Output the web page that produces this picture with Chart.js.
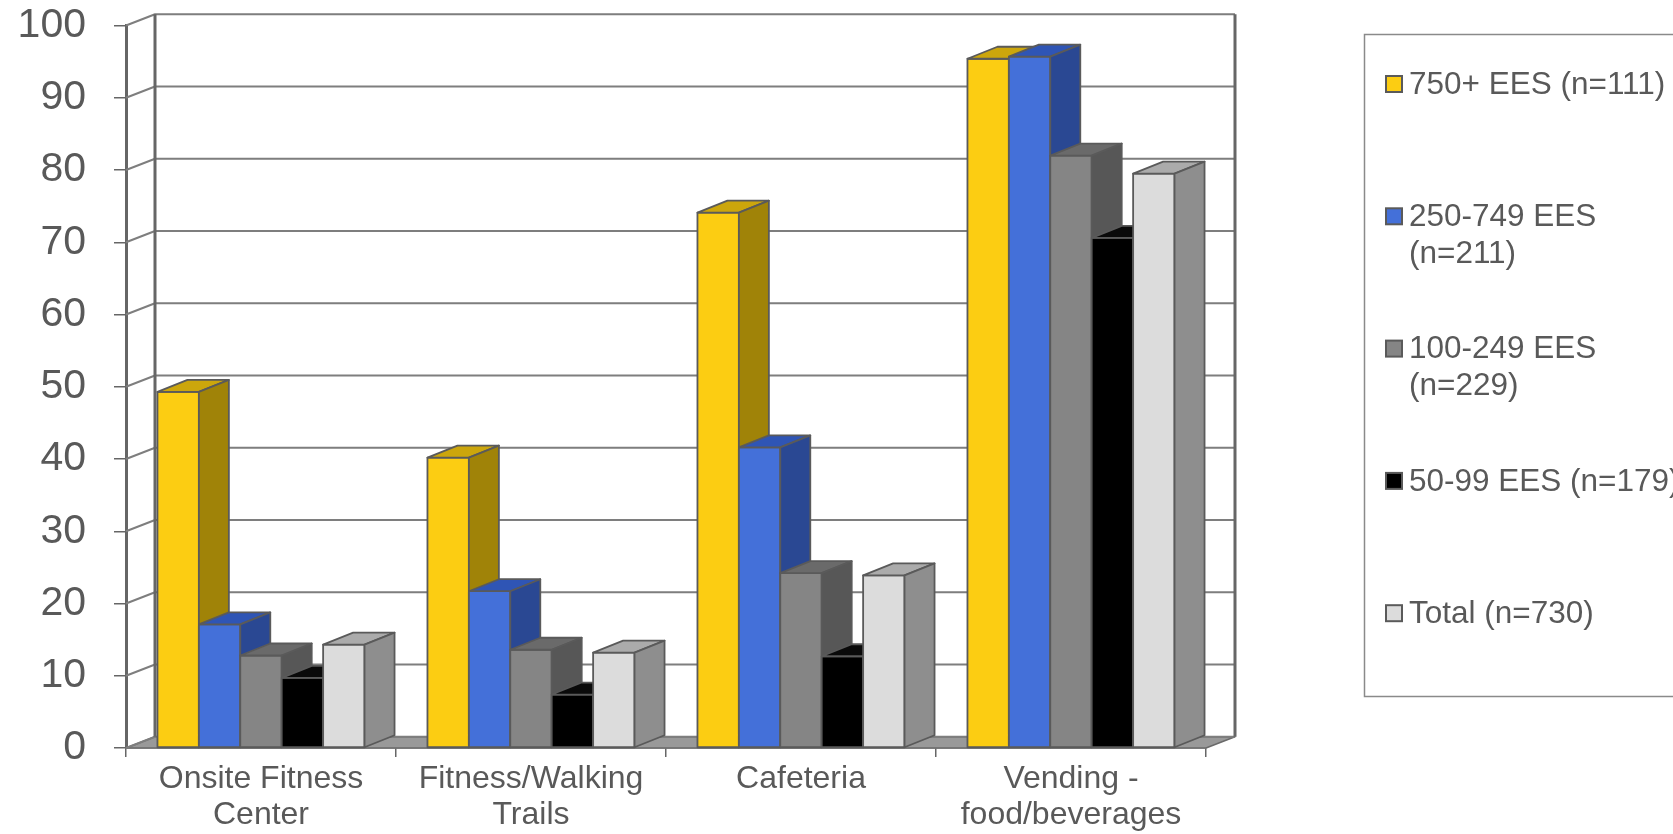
<!DOCTYPE html>
<html>
<head>
<meta charset="utf-8">
<script src="https://cdn.jsdelivr.net/npm/chart.js@4/dist/chart.umd.min.js"></script>
<style>
  html, body { margin: 0; padding: 0; background: #fff; }
  #wrap { width: 1673px; height: 834px; position: relative; }
</style>
</head>
<body>
<div id="wrap"><canvas id="chart"></canvas></div>
<script>
// categories and series
const categories = [['Onsite Fitness', 'Center'], ['Fitness/Walking', 'Trails'], ['Cafeteria'], ['Vending -', 'food/beverages']];
const seriesNames = ['750+ EES (n=111)', '250-749 EES (n=211)', '100-249 EES (n=229)', '50-99 EES (n=179)', 'Total (n=730)'];
const legendLines = [['750+ EES (n=111)'], ['250-749 EES', '(n=211)'], ['100-249 EES', '(n=229)'], ['50-99 EES (n=179)'], ['Total (n=730)']];
const ees750 = [49.3, 40.2, 74.1, 95.4];
const ees250 = [17.1, 21.7, 41.6, 95.7];
const ees100 = [12.8, 13.6, 24.2, 82.0];
const ees50 = [9.7, 7.4, 12.7, 70.6];
const total = [14.3, 13.2, 23.9, 79.5];
const yTicks = [0, 10, 20, 30, 40, 50, 60, 70, 80, 90, 100];

// face colours: front, top, side
const faces = [
  ['#FCCD12', '#CCA60C', '#A08308'],
  ['#4470D9', '#2F55B5', '#2A4893'],
  ['#858585', '#6A6A6A', '#575757'],
  ['#000000', '#0A0A0A', '#000000'],
  ['#DCDCDC', '#ABABAB', '#8E8E8E']
];

const FONT = '"Liberation Sans", Arial, sans-serif';
const TEXT = '#595959';
const EDGE = '#5A5A5A';
const BAR_D = { dx: 30, dy: -12 };
const WALL_D = { dx: 29, dy: -11.3 };

function poly(ctx, pts, fill, stroke, lw) {
  ctx.beginPath();
  ctx.moveTo(pts[0][0], pts[0][1]);
  for (let i = 1; i < pts.length; i++) ctx.lineTo(pts[i][0], pts[i][1]);
  ctx.closePath();
  if (fill) { ctx.fillStyle = fill; ctx.fill(); }
  if (stroke) { ctx.strokeStyle = stroke; ctx.lineWidth = lw; ctx.stroke(); }
}

// floor, side wall and back wall with its gridlines
const walls = {
  id: 'walls',
  beforeDatasetsDraw(chart) {
    const { ctx, chartArea: a, scales: { y } } = chart;
    const L = a.left, R = a.right, B = a.bottom, T = y.getPixelForValue(100);
    const { dx, dy } = WALL_D;
    ctx.save();
    ctx.lineJoin = 'round';
    poly(ctx, [[L, B], [R, B], [R + dx, B + dy], [L + dx, B + dy]], '#999999', '#6A6A6A', 1.5);
    ctx.strokeStyle = '#7E7E7E';
    ctx.lineWidth = 2;
    yTicks.forEach(v => {
      const py = y.getPixelForValue(v);
      ctx.beginPath();
      ctx.moveTo(L, py);
      ctx.lineTo(L + dx, py + dy);
      ctx.lineTo(R + dx, py + dy);
      ctx.stroke();
    });
    ctx.strokeStyle = '#666666';
    ctx.lineWidth = 3;
    ctx.beginPath();
    ctx.moveTo(L + dx, T + dy); ctx.lineTo(L + dx, B + dy);
    ctx.moveTo(R + dx, T + dy); ctx.lineTo(R + dx, B + dy);
    ctx.stroke();
    ctx.restore();
  }
};

// 3D boxes on top of the library's bar elements
const boxes = {
  id: 'boxes',
  afterDatasetsDraw(chart) {
    const { ctx } = chart;
    const { dx, dy } = BAR_D;
    ctx.save();
    ctx.lineJoin = 'round';
    chart.data.datasets.forEach((ds, i) => {
      const [front, top, side] = faces[i];
      chart.getDatasetMeta(i).data.forEach(bar => {
        const { x, y, base, width } = bar.getProps(['x', 'y', 'base', 'width'], true);
        const l = x - width / 2, r = x + width / 2;
        poly(ctx, [[l, y], [r, y], [r, base], [l, base]], front, EDGE, 1.8);
        poly(ctx, [[l, y], [r, y], [r + dx, y + dy], [l + dx, y + dy]], top, EDGE, 1.8);
        poly(ctx, [[r, y], [r + dx, y + dy], [r + dx, base + dy], [r, base]], side, EDGE, 1.8);
      });
    });
    ctx.restore();
  }
};

// boxed legend on the right
const sideLegend = {
  id: 'sideLegend',
  afterDraw(chart) {
    const { ctx } = chart;
    ctx.save();
    ctx.strokeStyle = '#8A8A8A';
    ctx.lineWidth = 1.5;
    ctx.strokeRect(1364.5, 34.5, 420, 662);
    ctx.font = '31.5px ' + FONT;
    ctx.textBaseline = 'middle';
    ctx.textAlign = 'left';
    legendLines.forEach((lines, i) => {
      const cy = 84 + i * 132.3;
      ctx.fillStyle = faces[i][0];
      ctx.fillRect(1386, cy - 8, 16, 16);
      ctx.strokeStyle = '#5A5A5A';
      ctx.lineWidth = 2;
      ctx.strokeRect(1386, cy - 8, 16, 16);
      ctx.fillStyle = TEXT;
      lines.forEach((t, k) => ctx.fillText(t, 1409, cy + 1 + k * 37));
    });
    ctx.restore();
  }
};

const seriesData = [ees750, ees250, ees100, ees50, total];

new Chart(document.getElementById('chart'), {
  type: 'bar',
  data: {
    labels: categories,
    datasets: seriesNames.map((name, i) => ({
      label: name,
      data: seriesData[i],
      backgroundColor: 'rgba(0,0,0,0)',
      borderWidth: 0
    }))
  },
  options: {
    responsive: true,
    maintainAspectRatio: false,
    animation: false,
    layout: { padding: { left: 0, right: 467, top: 25.5, bottom: 0 } },
    datasets: { bar: { barPercentage: 1, categoryPercentage: 0.767 } },
    plugins: { legend: { display: false }, tooltip: { enabled: false } },
    scales: {
      x: {
        afterFit: s => { s.height = 86; s.paddingLeft = 0; s.paddingRight = 0; },
        grid: { drawOnChartArea: false, tickLength: 9, color: '#666666', lineWidth: 1.5 },
        border: { display: true, color: '#666666', width: 1.5 },
        ticks: { color: TEXT, padding: 4, maxRotation: 0, autoSkip: false, font: { family: FONT, size: 32, lineHeight: 1.125 } }
      },
      y: {
        min: 0,
        max: 100,
        // tick padding would otherwise push the plot top down
        afterFit: s => { s.width = 126; s.paddingTop = 0; s.paddingBottom = 0; },
        afterBuildTicks: s => { s.ticks = yTicks.map(v => ({ value: v })); },
        grid: { drawOnChartArea: false, tickLength: 12, color: '#666666', lineWidth: 1.5 },
        border: { display: true, color: '#666666', width: 3 },
        ticks: { color: TEXT, padding: 28, font: { family: FONT, size: 41, lineHeight: 1.17 } }
      }
    }
  },
  plugins: [walls, boxes, sideLegend]
});
</script>
</body>
</html>
